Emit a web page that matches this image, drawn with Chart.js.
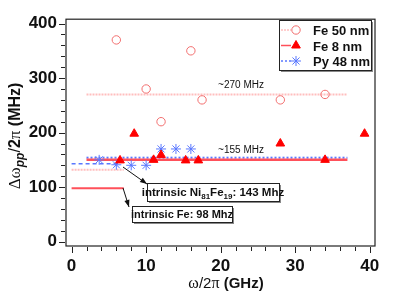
<!DOCTYPE html>
<html>
<head>
<meta charset="utf-8">
<script src="https://cdn.jsdelivr.net/npm/chart.js@4.4.1/dist/chart.umd.min.js"></script>
<style>
html, body { margin: 0; padding: 0; background: #fff; }
#wrap { width: 415px; height: 300px; }
</style>
</head>
<body>
<div id="wrap"><canvas id="chart"></canvas></div>
<script>
// measured points
const fe50X = [6, 10, 12, 16, 17.5, 28, 34];
const fe50Y = [370, 280, 220, 350, 260, 260, 270];
const fe8X = [6.5, 8.4, 11, 12, 15.3, 17, 28, 34, 39.3];
const fe8Y = [149, 198, 150, 159, 149, 149, 180, 150, 198];
const py48X = [3.7, 6, 8, 10, 12, 14, 16];
const py48Y = [150, 141, 140, 140, 170, 170, 170];

// averages and intrinsic levels (MHz) with their x extent (GHz)
const avgRange = [2, 37];
const fe50Avg = 270;
const fe8Avg = 150;
const py48Avg = 154;
const lowRange = [0, 7];
const fe50Low = 132;
const fe8Intrinsic = 98;
const pyRange = [0, 6.3];
const py48Intrinsic = 143;

const xTickLabels = [0, 10, 20, 30, 40];
const yTickLabels = [0, 100, 200, 300, 400];
const xMinorStep = 2;
const yMinorStep = 20;

const pink = 'rgb(242,110,110)';
const pinkLine = 'rgb(255,190,190)';
const red = 'rgb(255,0,0)';
const redLine = 'rgb(255,80,90)';
const blue = 'rgb(90,120,255)';

function toPoints(xs, ys) {
    return xs.map((v, i) => ({ x: v, y: ys[i] }));
}

function hline(level, range) {
    return [{ x: range[0], y: level }, { x: range[1], y: level }];
}

function minorTicks(labels, step) {
    const out = [];
    const last = labels[labels.length - 1];
    for (let v = labels[0]; v <= last + 1e-9; v += step) out.push(v);
    return out;
}

function seg(ctx, x1, y1, x2, y2) {
    ctx.beginPath();
    ctx.moveTo(x1, y1);
    ctx.lineTo(x2, y2);
    ctx.stroke();
}

function arrow(ctx, x1, y1, x2, y2) {
    seg(ctx, x1, y1, x2, y2);
    const ang = Math.atan2(y2 - y1, x2 - x1);
    const L = 7, W = 2.6;
    ctx.beginPath();
    ctx.moveTo(x2, y2);
    ctx.lineTo(x2 - L * Math.cos(ang) + W * Math.sin(ang), y2 - L * Math.sin(ang) - W * Math.cos(ang));
    ctx.lineTo(x2 - L * Math.cos(ang) - W * Math.sin(ang), y2 - L * Math.sin(ang) + W * Math.cos(ang));
    ctx.closePath();
    ctx.fill();
}

// draws a row of differently styled text pieces, x is the start or center
function runs(ctx, parts, x, y, center) {
    let w = 0;
    parts.forEach(p => { ctx.font = p.f; w += ctx.measureText(p.t).width; });
    let cx = center ? x - w / 2 : x;
    parts.forEach(p => {
        ctx.font = p.f;
        ctx.fillText(p.t, cx, y + (p.dy || 0));
        cx += ctx.measureText(p.t).width;
    });
    return w;
}

function shadowBox(ctx, x, y, w, h) {
    ctx.fillStyle = '#888';
    ctx.fillRect(x + 2, y + 2, w, h);
    ctx.fillStyle = '#fff';
    ctx.fillRect(x, y, w, h);
    ctx.strokeStyle = '#222';
    ctx.lineWidth = 1;
    ctx.strokeRect(x + 0.5, y + 0.5, w, h);
}

const SANS = '"Liberation Sans", Arial, sans-serif';
const SERIF = '"Liberation Serif", "Times New Roman", serif';

const extras = {
    id: 'extras',
    afterDraw(chart) {
        const { ctx, chartArea: a, scales } = chart;
        const x = scales.x, y = scales.y;
        ctx.save();

        // frame
        ctx.strokeStyle = '#222';
        ctx.lineWidth = 1.2;
        ctx.strokeRect(a.left, a.top, a.right - a.left, a.bottom - a.top);

        // tick marks outside the frame
        ctx.lineWidth = 1;
        minorTicks(xTickLabels, xMinorStep).forEach(v => {
            const px = Math.round(x.getPixelForValue(v)) + 0.5;
            const len = xTickLabels.includes(v) ? 6 : 4;
            seg(ctx, px, a.bottom + 1, px, a.bottom + 1 + len);
        });
        minorTicks(yTickLabels, yMinorStep).forEach(v => {
            const py = Math.round(y.getPixelForValue(v)) + 0.5;
            const len = yTickLabels.includes(v) ? 6 : 4;
            seg(ctx, a.left - 1, py, a.left - 1 - len, py);
        });

        ctx.fillStyle = '#111';
        ctx.textBaseline = 'alphabetic';
        ctx.textAlign = 'left';

        // x title
        runs(ctx, [
            { t: 'ω', f: '16px ' + SERIF },
            { t: '/2', f: '15px ' + SANS },
            { t: 'π', f: '16px ' + SERIF },
            { t: ' (GHz)', f: 'bold 15px ' + SANS }
        ], 226, 288, true);

        // y title
        ctx.save();
        ctx.translate(20, 136);
        ctx.rotate(-Math.PI / 2);
        runs(ctx, [
            { t: 'Δω', f: '17px ' + SERIF },
            { t: 'pp', f: 'italic bold 12px ' + SANS, dy: 4 },
            { t: '/', f: '16px ' + SANS },
            { t: '2', f: 'bold 16px ' + SANS },
            { t: 'π', f: '17px ' + SERIF },
            { t: ' (MHz)', f: 'bold 16px ' + SANS }
        ], 0, 0, true);
        ctx.restore();

        // level notes
        ctx.font = '10px ' + SANS;
        ctx.textAlign = 'center';
        ctx.fillText('~270 MHz', 241, 88);
        ctx.fillText('~155 MHz', 241, 153);
        ctx.textAlign = 'left';

        // arrows
        ctx.strokeStyle = '#111';
        ctx.fillStyle = '#111';
        ctx.lineWidth = 1;
        arrow(ctx, 123, 167, 147, 184);
        arrow(ctx, 123, 188, 129, 207);

        // annotation boxes
        shadowBox(ctx, 147, 183, 132, 18);
        ctx.fillStyle = '#111';
        runs(ctx, [
            { t: 'intrinsic Ni', f: 'bold 11.5px ' + SANS },
            { t: '81', f: 'bold 8px ' + SANS, dy: 3 },
            { t: 'Fe', f: 'bold 11.5px ' + SANS },
            { t: '19', f: 'bold 8px ' + SANS, dy: 3 },
            { t: ': 143 Mhz', f: 'bold 11.5px ' + SANS }
        ], 213, 196, true);

        shadowBox(ctx, 132, 206, 100, 16);
        ctx.fillStyle = '#111';
        runs(ctx, [{ t: 'intrinsic Fe: 98 Mhz', f: 'bold 11px ' + SANS }], 182, 218, true);

        // legend
        shadowBox(ctx, 279, 20, 92, 50);
        const rows = [
            { label: 'Fe 50 nm', ds: 0, line: 3, dash: [2, 1] },
            { label: 'Fe 8 nm', ds: 1, line: 4, dash: [] },
            { label: 'Py 48 nm', ds: 2, line: 5, dash: [2, 2] }
        ];
        rows.forEach((r, i) => {
            const ry = 30 + i * 15.5;
            const lds = chart.data.datasets[r.line];
            const pds = chart.data.datasets[r.ds];
            ctx.strokeStyle = lds.borderColor;
            ctx.lineWidth = 1.5;
            ctx.setLineDash(r.dash);
            seg(ctx, 281, ry, 291, ry);
            ctx.setLineDash([]);
            ctx.strokeStyle = pds.borderColor;
            ctx.fillStyle = pds.backgroundColor;
            ctx.lineWidth = 1;
            Chart.helpers.drawPoint(ctx, {
                pointStyle: pds.pointStyle,
                radius: pds.pointRadius,
                borderWidth: 1
            }, 296, ry);
            ctx.fillStyle = '#111';
            ctx.font = 'bold 13px ' + SANS;
            ctx.fillText(r.label, 313, ry + 5);
        });

        ctx.restore();
    }
};

function chart(id) {
    const ctx = document.getElementById(id);
    const lineStyle = (data, color, width, dash) => ({
        data: data,
        showLine: true,
        borderColor: color,
        borderWidth: width,
        borderDash: dash,
        pointRadius: 0,
        fill: false
    });
    window.myChart = new Chart(ctx, {
        type: 'scatter',
        data: {
            datasets: [
                { label: 'Fe 50 nm', data: toPoints(fe50X, fe50Y), pointStyle: 'circle', pointRadius: 4.2,
                  borderColor: pink, backgroundColor: 'rgba(255,255,255,0)', borderWidth: 1 },
                { label: 'Fe 8 nm', data: toPoints(fe8X, fe8Y), pointStyle: 'triangle', pointRadius: 5,
                  borderColor: red, backgroundColor: red, borderWidth: 1 },
                { label: 'Py 48 nm', data: toPoints(py48X, py48Y), pointStyle: 'star', pointRadius: 5,
                  borderColor: blue, backgroundColor: blue, borderWidth: 1 },
                lineStyle(hline(fe50Avg, avgRange), pinkLine, 2, [2, 1]),
                lineStyle(hline(fe8Avg, avgRange), redLine, 2.5, []),
                lineStyle(hline(py48Avg, avgRange), blue, 2, [2, 2]),
                lineStyle(hline(fe50Low, lowRange), pinkLine, 2, [2, 1]),
                lineStyle(hline(fe8Intrinsic, lowRange), redLine, 2, []),
                lineStyle(hline(py48Intrinsic, pyRange), blue, 1.5, [4, 3])
            ]
        },
        options: {
            responsive: false,
            animation: false,
            maintainAspectRatio: false,
            layout: { padding: { top: 15, right: 40, left: 0, bottom: 0 } },
            plugins: { legend: { display: false }, tooltip: { enabled: false } },
            scales: {
                x: {
                    type: 'linear',
                    min: -0.75,
                    max: 40.7,
                    afterBuildTicks: s => { s.ticks = xTickLabels.map(v => ({ value: v })); },
                    afterFit: s => { s.height = 54; },
                    grid: { display: false, drawTicks: false },
                    border: { display: false },
                    ticks: { padding: 10, color: '#111', maxRotation: 0,
                             font: { family: 'Liberation Sans', size: 17, weight: 'bold' } }
                },
                y: {
                    type: 'linear',
                    min: -8,
                    max: 408,
                    afterBuildTicks: s => { s.ticks = yTickLabels.map(v => ({ value: v })); },
                    afterFit: s => { s.width = 66; },
                    grid: { display: false, drawTicks: false },
                    border: { display: false },
                    ticks: { padding: 9, color: '#111',
                             font: { family: 'Liberation Sans', size: 17, weight: 'bold' } }
                }
            }
        },
        plugins: [extras]
    });
}

const cv = document.getElementById('chart');
cv.width = 415;
cv.height = 300;
chart('chart');
</script>
</body>
</html>
